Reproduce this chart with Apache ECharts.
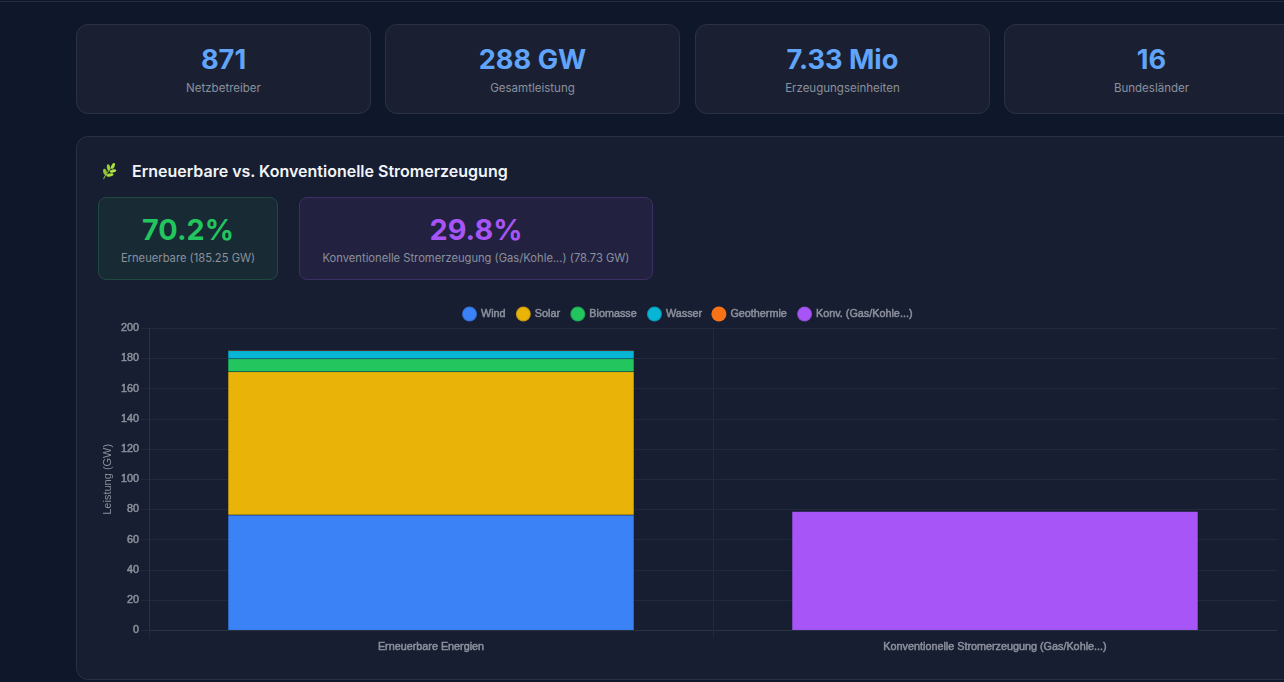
<!DOCTYPE html>
<html lang="de">
<head>
<meta charset="utf-8">
<script src="https://cdn.jsdelivr.net/npm/echarts@6/dist/echarts.min.js"></script>
<style>
html,body{margin:0;padding:0;width:1284px;height:682px;overflow:hidden;background:#0f182a;font-family:Inter,sans-serif}
body{position:relative}
.topline{position:absolute;left:0;top:1px;width:1284px;height:1px;background:#252d40}
.stat{position:absolute;top:24px;width:293px;height:88px;background:#1a2032;border:1px solid #2a3144;border-radius:12px;text-align:center;box-sizing:content-box}
.stat .v{position:absolute;left:0;right:0;top:18px;font-size:27.200px;line-height:34px;font-weight:700;color:#60a5fa}
.stat .l{position:absolute;left:0;right:0;top:55px;font-size:11.520px;line-height:16px;color:#8b909c}
.panel{position:absolute;left:76px;top:136px;width:1300px;height:542px;background:#181e31;border:1px solid #2a3144;border-radius:12px}
.title{position:absolute;left:132px;top:160px;font-size:16px;line-height:22px;font-weight:600;color:#f1f5f9}
.icon{position:absolute;left:100px;top:162px;width:18px;height:18px}
.box{position:absolute;top:197px;height:81px;border-radius:8px;text-align:center}
.box .v{position:absolute;left:0;right:0;top:14px;font-size:28.800px;line-height:36px;font-weight:700}
.box .l{position:absolute;left:0;right:0;top:52px;font-size:11.200px;line-height:16px;color:#8b909c}
.g{left:98px;width:178px;background:#182a34;border:1px solid #1f4a40}
.g .v{color:#22c55e}
.p{left:299px;width:352px;background:#222240;border:1px solid #3c2f66}
.p .v{color:#a855f7}
#chart{position:absolute;left:98px;top:300px;width:1179px;height:360px}
</style>
</head>
<body>
<div class="topline"></div>
<div class="stat" style="left:76px"><div class="v">871</div><div class="l">Netzbetreiber</div></div>
<div class="stat" style="left:385px"><div class="v">288 GW</div><div class="l">Gesamtleistung</div></div>
<div class="stat" style="left:695px"><div class="v">7.33 Mio</div><div class="l">Erzeugungseinheiten</div></div>
<div class="stat" style="left:1004px"><div class="v">16</div><div class="l">Bundesländer</div></div>
<div class="panel"></div>
<svg class="icon" viewBox="0 0 18 18"><path d="M3.500 17C6 12 9 8 13 3" stroke="#7fb82e" stroke-width="1.100" fill="none"/><ellipse cx="13" cy="4" rx="1.600" ry="3.200" transform="rotate(25 13 4)" fill="#a8dc3c"/><ellipse cx="8.500" cy="5.500" rx="1.600" ry="3.200" transform="rotate(-8 8.500 5.500)" fill="#9ad136"/><ellipse cx="13" cy="9" rx="3.300" ry="1.500" transform="rotate(-15 13 9)" fill="#b4e34a"/><ellipse cx="5" cy="10" rx="1.800" ry="3.400" transform="rotate(-12 5 10)" fill="#8fc832"/><ellipse cx="10" cy="13" rx="3.600" ry="1.500" transform="rotate(-10 10 13)" fill="#a8dc3c"/></svg>
<div class="title">Erneuerbare vs. Konventionelle Stromerzeugung</div>
<div class="box g"><div class="v">70.2%</div><div class="l">Erneuerbare (185.25 GW)</div></div>
<div class="box p"><div class="v">29.8%</div><div class="l">Konventionelle Stromerzeugung (Gas/Kohle...) (78.73 GW)</div></div>
<div id="chart"></div>
<script>
const categories = ['Erneuerbare Energien', 'Konventionelle Stromerzeugung (Gas/Kohle...)'];
const seriesNames = ['Wind', 'Solar', 'Biomasse', 'Wasser', 'Geothermie', 'Konv. (Gas/Kohle...)'];
const seriesColors = ['#3b82f6', '#eab308', '#22c55e', '#06b6d4', '#f97316', '#a855f7'];
const wind = [76.3, 0];
const solar = [94.9, 0];
const biomasse = [8.6, 0];
const wasser = [5.4, 0];
const geothermie = [0.05, 0];
const konv = [0, 78.73];
const seriesValues = [wind, solar, biomasse, wasser, geothermie, konv];
const yTicks = {min: 0, max: 200, interval: 20};
const axisFont = {color: '#8b909c', fontFamily: '"Liberation Sans", Arial, sans-serif', fontSize: 10.800, fontWeight: 400, textBorderColor: '#8b909c', textBorderWidth: 0.5};
const chart = echarts.init(document.getElementById('chart'), null, {renderer: 'canvas'});
chart.setOption({
  animation: false,
  backgroundColor: 'transparent',
  legend: {
    top: 0.500, left: 358, icon: 'circle', itemWidth: 15, itemHeight: 15, itemGap: 9,
    textStyle: Object.assign({}, axisFont, {padding: [0, 0, 0, -1]}),
    data: seriesNames
  },
  grid: {left: 51, right: 0, top: 28.300, bottom: 29.700, outerBoundsMode: 'none'},
  xAxis: {
    type: 'category', data: categories,
    axisLine: {show: true, lineStyle: {color: '#2a3344'}},
    axisTick: {show: true, length: 8, alignWithLabel: false, lineStyle: {color: '#212a3b'}},
    splitLine: {show: true, lineStyle: {color: '#212a3b'}},
    axisLabel: Object.assign({}, axisFont, {margin: 11})
  },
  yAxis: {
    type: 'value', min: yTicks.min, max: yTicks.max, interval: yTicks.interval,
    name: 'Leistung (GW)', nameLocation: 'middle', nameGap: 36, nameMoveOverlap: false,
    nameTextStyle: {color: '#8b909c', fontFamily: '"Liberation Sans", Arial, sans-serif', fontSize: 11},
    axisLine: {show: true, lineStyle: {color: '#2a3344'}},
    axisTick: {show: true, length: 8, lineStyle: {color: '#212a3b'}},
    splitLine: {show: true, lineStyle: {color: '#212a3b'}},
    axisLabel: Object.assign({}, axisFont, {margin: 10})
  },
  series: seriesNames.map((name, i) => ({
    name, type: 'bar', stack: 'total', barWidth: '72%',
    itemStyle: {color: seriesColors[i], borderColor: 'rgba(23,31,50,0.2)', borderWidth: i === 4 ? 0 : 0.5},
    data: seriesValues[i].map(v => v === 0 ? null : v)
  }))
});
</script>
</body>
</html>
